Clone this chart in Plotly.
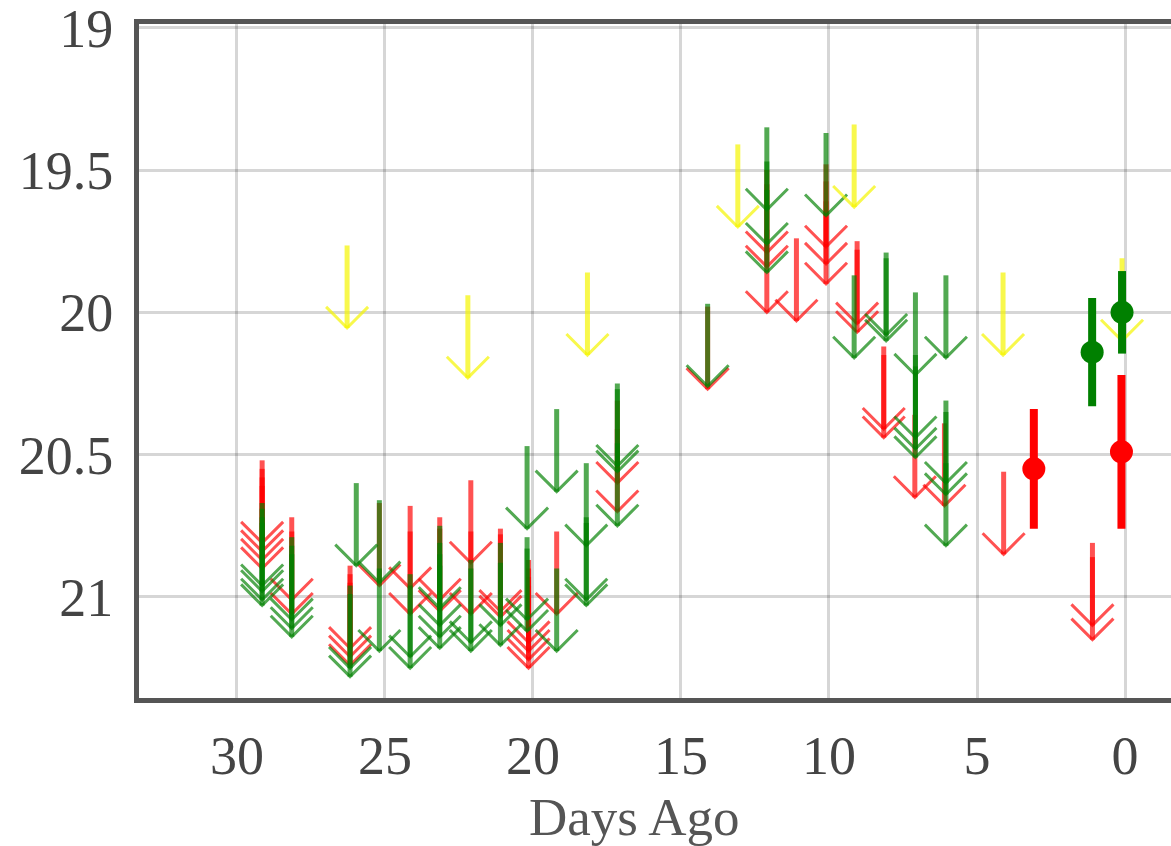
import plotly.graph_objects as go

# Upper limits (days ago, limiting magnitude at the arrow tip)
red_limit_days = [29.15, 29.15, 29.15, 29.15, 28.15, 28.15, 26.18, 26.18, 26.18, 25.19,
                  24.15, 24.15, 23.15, 23.15, 22.1, 22.1, 21.1, 21.1,
                  20.15, 20.15, 20.15, 20.15, 19.2, 17.15, 17.15, 14.1,
                  12.1, 12.1, 12.1, 11.1, 10.1, 10.1, 10.1, 9.05, 9.05,
                  8.15, 8.15, 7.1, 6.1, 4.1, 1.1, 1.1]
red_limit_mags = [20.81, 20.84, 20.87, 20.90, 21.01, 21.06, 21.18, 21.21, 21.24, 20.96,
                  20.97, 21.06, 21.01, 21.05, 20.88, 21.06, 21.05, 21.07,
                  21.16, 21.19, 21.22, 21.25, 21.06, 20.60, 20.70, 20.27,
                  19.79, 19.84, 20.00, 20.03, 19.77, 19.83, 19.90, 20.04, 20.07,
                  20.41, 20.44, 20.65, 20.68, 20.85, 21.10, 21.15]

green_limit_days = [29.15, 29.15, 29.15, 29.15, 28.15, 28.15, 28.15, 26.18, 26.18, 25.97,
                    25.19, 25.19, 24.15, 24.15, 23.15, 23.15, 23.15, 23.15, 22.1, 22.1,
                    21.1, 21.1, 20.2, 20.2, 20.2, 19.2, 19.2, 18.2, 18.2, 18.2,
                    17.15, 17.15, 17.15, 14.1, 12.1, 12.1, 12.1, 10.1, 9.15,
                    8.07, 8.07, 7.08, 7.08, 7.08, 7.08, 6.05, 6.05, 6.05, 6.05]
green_limit_mags = [20.96, 20.98, 21.01, 21.03, 21.08, 21.11, 21.14, 21.25, 21.28, 20.89,
                    20.95, 21.19, 21.21, 21.25, 21.04, 21.10, 21.14, 21.18, 21.16, 21.19,
                    21.10, 21.17, 20.76, 21.08, 21.12, 20.63, 21.19, 20.82, 21.01, 21.03,
                    20.54, 20.56, 20.75, 20.26, 19.64, 19.76, 19.86, 19.66, 20.16,
                    20.08, 20.10, 20.22, 20.44, 20.48, 20.51, 20.16, 20.60, 20.64, 20.82]

yellow_limit_days = [26.28, 22.2, 18.16, 13.08, 9.15, 4.12, 0.1]
yellow_limit_mags = [20.055, 20.23, 20.15, 19.70, 19.63, 20.15, 20.10]

# Detections with 1-sigma errors
red_det_days = [3.08, 0.12]
red_det_mags = [20.55, 20.49]
red_det_errs = [0.21, 0.27]

green_det_days = [1.11, 0.10]
green_det_mags = [20.14, 20.00]
green_det_errs = [0.19, 0.145]

x_ticks = [0, 5, 10, 15, 20, 25, 30]
y_ticks = [19, 19.5, 20, 20.5, 21]
y_tick_labels = ["19", "19.5", "20", "20.5", "21"]

RED = "rgba(255,0,0,0.68)"
GREEN = "rgba(0,128,0,0.68)"
YELLOW = "rgba(245,245,0,0.7)"

SHAFT = 0.29    # arrow shaft length (mag)
HEAD_W = 0.71   # chevron half width (days)
HEAD_H = 0.074  # chevron height (mag)

fig = go.Figure()


def add_limits(days, mags, color):
    for d, m in zip(days, mags):
        fig.add_trace(go.Scatter(
            x=[d, d], y=[m - SHAFT, m], mode="lines",
            line=dict(color=color, width=5),
            hoverinfo="skip", showlegend=False))
        fig.add_trace(go.Scatter(
            x=[d - HEAD_W, d, d + HEAD_W], y=[m - HEAD_H, m, m - HEAD_H],
            mode="lines", line=dict(color=color, width=3),
            hoverinfo="skip", showlegend=False))


add_limits(red_limit_days, red_limit_mags, RED)
add_limits(green_limit_days, green_limit_mags, GREEN)
add_limits(yellow_limit_days, yellow_limit_mags, YELLOW)


def add_detections(days, mags, errs, color):
    fig.add_trace(go.Scatter(
        x=days, y=mags, mode="markers",
        marker=dict(color=color, size=23),
        error_y=dict(type="data", array=errs, color=color, thickness=8, width=0),
        showlegend=False))


add_detections(red_det_days, red_det_mags, red_det_errs, "#ff0000")
add_detections(green_det_days, green_det_mags, green_det_errs, "#008000")

axis_font = dict(family="Liberation Serif, Times New Roman, serif", size=54, color="#444444")

fig.update_layout(
    width=1171, height=846,
    margin=dict(l=139, r=0, t=24, b=148),
    paper_bgcolor="white", plot_bgcolor="white",
    showlegend=False,
    xaxis=dict(
        range=[33.31, -1.554], tickvals=x_ticks, ticktext=[str(v) for v in x_ticks],
        showgrid=True, gridcolor="rgba(0,0,0,0.16)", gridwidth=2.5,
        zeroline=False, showline=True, mirror=True, linecolor="#555555", linewidth=5,
        ticks="outside", ticklen=6, tickcolor="rgba(0,0,0,0)",
        tickfont=axis_font, ticklabeloverflow="allow"),
    yaxis=dict(
        range=[21.355, 18.987], tickvals=y_ticks, ticktext=y_tick_labels,
        showgrid=True, gridcolor="rgba(0,0,0,0.16)", gridwidth=2.5,
        zeroline=False, showline=True, mirror=False, linecolor="#555555", linewidth=5,
        ticks="outside", ticklen=10, tickcolor="rgba(0,0,0,0)",
        tickfont=axis_font, ticklabeloverflow="allow"),
    annotations=[dict(
        text="Days Ago", xref="paper", yref="paper", x=0.48, y=-0.176,
        xanchor="center", yanchor="middle", showarrow=False,
        font=dict(family="Liberation Serif, Times New Roman, serif", size=53, color="#555555"))],
)

fig.write_html("out.html")
